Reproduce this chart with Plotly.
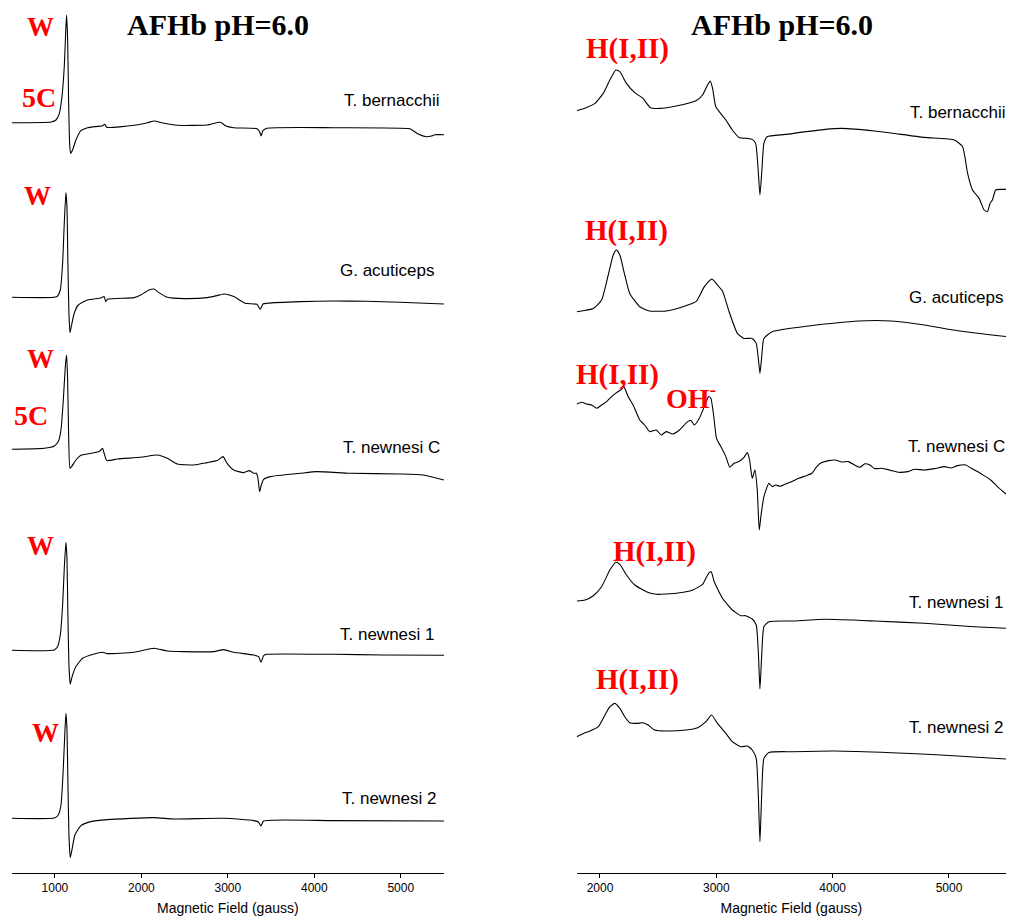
import plotly.graph_objects as go

# ---------------- data (field in gauss, intensity in arbitrary units) ----------------
species = ["T. bernacchii", "G. acuticeps", "T. newnesi C", "T. newnesi 1", "T. newnesi 2"]

# Left panel: wide-field spectra
B_L1 = [500, 955, 1012, 1051, 1081, 1108, 1127, 1135, 1147, 1158, 1170, 1181, 1204, 1243, 1300, 1377, 1550, 1577, 1600, 1915, 2069, 2146, 2261, 2415, 2760, 2914, 2972, 3068, 3337, 3368, 3383, 3406, 3452, 4221, 5105, 5143, 5201, 5297, 5355, 5393, 5500]
I_L1 = [0, 0.7, 2.7, 9.4, 26, 56, 96, 107.7, 82.7, 22.7, -20.6, -30.6, -27.3, -17.3, -8, -5, -3, -1.6, -4.6, -2.6, 0, 1.7, -0.6, -2.6, -2.3, 0.4, -3, -5, -6, -9, -13.3, -8, -5.6, -5, -6, -8, -11.3, -14, -13.3, -12, -12]

B_L2 = [500, 993, 1031, 1062, 1089, 1108, 1127, 1139, 1150, 1162, 1174, 1189, 1223, 1270, 1377, 1531, 1569, 1588, 1608, 1915, 1992, 2088, 2146, 2203, 2300, 2492, 2760, 2876, 2960, 3068, 3203, 3337, 3375, 3406, 3452, 3837, 4221, 4605, 4990, 5500]
I_L2 = [0, 0, 1.3, 7.3, 34, 74, 104.7, 90.7, 34, -16, -35.3, -29.3, -16, -7.7, -2.7, -0.7, 0.7, -4.3, -2, -0.3, 2.3, 7.3, 8.3, 4.7, 0, -1.3, -0.3, 1.7, 3.3, 0.7, -6, -7, -12, -6.7, -6, -4.3, -3.7, -4, -5, -6.7]

B_L3 = [500, 878, 993, 1039, 1070, 1097, 1120, 1135, 1147, 1158, 1174, 1193, 1243, 1300, 1415, 1512, 1550, 1569, 1600, 1723, 1992, 2184, 2300, 2415, 2607, 2760, 2876, 2945, 2991, 3068, 3183, 3252, 3298, 3329, 3345, 3368, 3387, 3414, 3491, 3837, 4029, 4413, 4990, 5258, 5500]
I_L3 = [0, 1, 3.3, 7.7, 19.3, 49.3, 82.7, 94.3, 69.3, 16, -19, -17.3, -10.7, -6, -4, -2.3, 1, -4, -11.3, -9.7, -8, -5.7, -9, -14.7, -15.7, -13.3, -11.3, -7.3, -14, -20.7, -23.3, -21.3, -24, -24, -27.3, -42.3, -35.7, -30, -27.3, -24, -22.3, -24, -24.7, -25.7, -30.7]

B_L4 = [500, 993, 1031, 1062, 1089, 1108, 1127, 1139, 1150, 1162, 1177, 1193, 1243, 1320, 1454, 1550, 1608, 1915, 2146, 2300, 2492, 2837, 2953, 3068, 3298, 3356, 3383, 3414, 3452, 4221, 4797, 5500]
I_L4 = [0, 0.3, 3.7, 15.3, 45.3, 82, 108, 92, 35.3, -14.7, -34, -28, -16.3, -8, -3.7, -2, -3.3, -2, 2, -0.7, -1.3, -1.3, 0.7, -2, -4.7, -6.3, -12, -5.3, -4, -4, -4.7, -5]

B_L5 = [500, 993, 1039, 1070, 1093, 1112, 1127, 1139, 1150, 1162, 1177, 1193, 1231, 1300, 1415, 1608, 2146, 2376, 2953, 3298, 3356, 3383, 3414, 4221, 5500]
I_L5 = [0, 0.3, 3.3, 13.3, 43.3, 80, 105, 90, 36.7, -16.7, -39.3, -33.3, -16.7, -7.3, -3.3, -1.3, 0.7, -0.7, 0, -2.3, -4, -7.7, -2.7, -2.3, -2.7]

# Right panel: low-spin region spectra
B_R1 = [1800, 1886, 1957, 2028, 2085, 2137, 2171, 2228, 2299, 2370, 2433, 2512, 2655, 2825, 2882, 2925, 2948, 2968, 2996, 3082, 3138, 3195, 3267, 3309, 3338, 3358, 3375, 3392, 3409, 3437, 3594, 3935, 4078, 4362, 4789, 5046, 5117, 5160, 5202, 5259, 5302, 5330, 5353, 5373, 5401, 5444, 5500]
I_R1 = [0, 3.3, 7.3, 17.3, 30.7, 40.7, 39, 27.3, 18, 12.3, 3, 2.3, 4.7, 10, 15.7, 25.7, 29.7, 22.3, 4, -9.3, -19.3, -26.7, -27.7, -28.7, -32.7, -56, -84.3, -59.3, -32.7, -26, -23.7, -18.7, -17.7, -20.3, -26.7, -29.3, -36, -62.7, -79.3, -87.7, -99.3, -101, -92.7, -89.3, -79.3, -78.7, -78.7]

B_R2 = [1800, 1943, 2014, 2071, 2114, 2142, 2171, 2213, 2256, 2342, 2427, 2569, 2712, 2825, 2897, 2962, 3010, 3053, 3110, 3181, 3238, 3309, 3343, 3361, 3375, 3389, 3409, 3480, 3793, 4220, 4505, 4789, 5074, 5500]
I_R2 = [0, 3.3, 11.7, 36.7, 56.7, 61.7, 56.7, 36.7, 18.3, 5, 0.7, 0.7, 5, 10, 25, 32.7, 26.7, 20.7, 0, -21.7, -26.7, -26.7, -31.7, -46.7, -61.7, -46.7, -26.7, -20, -14.3, -9.3, -9.3, -13.3, -19, -25]

B_R3 = [1800, 1843, 1886, 1929, 1971, 2014, 2057, 2100, 2142, 2185, 2205, 2242, 2285, 2342, 2384, 2427, 2484, 2527, 2569, 2626, 2683, 2754, 2783, 2811, 2854, 2897, 2934, 2953, 2973, 3002, 3039, 3082, 3116, 3153, 3195, 3238, 3267, 3286, 3309, 3332, 3352, 3369, 3383, 3409, 3452, 3480, 3508, 3550, 3594, 3650, 3708, 3765, 3822, 3865, 3907, 3965, 4021, 4078, 4135, 4192, 4234, 4277, 4320, 4362, 4419, 4476, 4505, 4562, 4647, 4704, 4789, 4875, 4960, 5017, 5074, 5145, 5188, 5245, 5302, 5359, 5416, 5500]
I_R3 = [-0.7, 1, -0.7, -1.7, -5, -1.7, 1.7, 6.7, 10.7, 14, 16.7, 6.7, -1.7, -16.7, -21.7, -28.3, -26.7, -31.7, -28.3, -30.7, -26.7, -18.3, -17.3, -21.7, -15, -3.3, 6.7, 5, -8.3, -35, -43.3, -53.3, -64, -60, -58.3, -54, -49.3, -56.7, -75, -66.7, -86.7, -126.7, -113.3, -93.3, -80, -83.3, -81.7, -83, -80.7, -78.3, -75, -72.7, -70, -63, -59.3, -57.3, -56.7, -58.7, -58.3, -62, -64, -60.5, -61.7, -65.3, -65, -66.3, -67.3, -69, -68.3, -66, -66.7, -65.3, -63.3, -64.7, -62.3, -61.7, -64.7, -68.3, -72.3, -76.7, -83.3, -91.7]

B_R4 = [1800, 1872, 1943, 2014, 2085, 2137, 2171, 2228, 2299, 2399, 2484, 2655, 2797, 2882, 2934, 2956, 2982, 3053, 3138, 3210, 3252, 3309, 3343, 3361, 3375, 3389, 3409, 3452, 3651, 3935, 4362, 4789, 5216, 5500]
I_R4 = [0, 1, 5.3, 14.3, 31, 38.7, 36.7, 26, 16, 9.3, 6.7, 7.7, 11, 16.7, 27.7, 29.3, 19.3, 2.7, -9, -14.7, -14.7, -18, -24, -50.7, -88, -57.3, -25.7, -20.7, -20, -18.3, -20, -22.3, -25.7, -27.3]

B_R5 = [1800, 1858, 1915, 1986, 2043, 2085, 2128, 2171, 2213, 2256, 2313, 2370, 2413, 2470, 2569, 2740, 2840, 2911, 2959, 3010, 3082, 3138, 3210, 3267, 3309, 3343, 3361, 3375, 3389, 3409, 3452, 3651, 4021, 4505, 4932, 5500]
I_R5 = [0, 3.3, 5.7, 10, 21.7, 30, 33.3, 28.3, 20, 14, 13.3, 14, 11.7, 6.7, 5.7, 6.7, 9, 15, 21.7, 13.3, 3.3, -5, -10, -9.3, -13.3, -21.7, -58.3, -105, -61.7, -21.7, -15.7, -15, -14.3, -16, -18.3, -22.3]

# vertical offsets (stacking) of each spectrum
offsets_left = [750.3, 575.7, 423.7, 222.7, 54.7]
offsets_right = [762.3, 561.3, 469.7, 272.0, 136.3]

left_B = [B_L1, B_L2, B_L3, B_L4, B_L5]
left_I = [I_L1, I_L2, I_L3, I_L4, I_L5]
right_B = [B_R1, B_R2, B_R3, B_R4, B_R5]
right_I = [I_R1, I_R2, I_R3, I_R4, I_R5]

left_ticks = [1000, 2000, 3000, 4000, 5000]
right_ticks = [2000, 3000, 4000, 5000]
title_text = "AFHb pH=6.0"
axis_title = "Magnetic Field (gauss)"

# ---------------- figure ----------------
PAGE_W, PAGE_H = 1015, 924
BODY = 8                      # default page margin around the plot
W, H = PAGE_W - 2 * BODY, PAGE_H - 2 * BODY
fig = go.Figure()

for Bs, Is, off in zip(left_B, left_I, offsets_left):
    fig.add_trace(go.Scatter(x=Bs, y=[v + off for v in Is], mode="lines",
                             line=dict(color="black", width=1.1, shape="spline", smoothing=0.5),
                             xaxis="x", yaxis="y", showlegend=False, hoverinfo="skip"))
for Bs, Is, off in zip(right_B, right_I, offsets_right):
    fig.add_trace(go.Scatter(x=Bs, y=[v + off for v in Is], mode="lines",
                             line=dict(color="black", width=1.1, shape="spline", smoothing=0.5),
                             xaxis="x2", yaxis="y2", showlegend=False, hoverinfo="skip"))

def px(x):
    return (x - BODY) / W

def py(y):
    return 1 - (y - BODY) / H

ann = []
serif = "Liberation Serif, Times New Roman, serif"
sans = "Liberation Sans, Arial, Helvetica, sans-serif"

# titles
for cx in (218, 782):
    ann.append(dict(x=px(cx), y=py(25), xref="paper", yref="paper", text="<b>%s</b>" % title_text,
                    showarrow=False, font=dict(family=serif, size=30, color="black"),
                    xanchor="center", yanchor="middle"))

# species labels
left_lab_pos = [(441, 101), (437, 270), (441.5, 447.5), (437, 634), (439, 798)]
right_lab_pos = [(1007, 112), (1006, 298), (1007, 446), (1006, 602.5), (1006, 727.5)]
for name, (x, y) in zip(species, left_lab_pos):
    ann.append(dict(x=px(x), y=py(y), xref="paper", yref="paper", text=name, showarrow=False,
                    font=dict(family=sans, size=17, color="black"), xanchor="right", yanchor="middle"))
for name, (x, y) in zip(species, right_lab_pos):
    ann.append(dict(x=px(x), y=py(y), xref="paper", yref="paper", text=name, showarrow=False,
                    font=dict(family=sans, size=17, color="black"), xanchor="right", yanchor="middle"))

# red feature labels
red_labels = [
    ("W", 40, 27, 27), ("5C", 39, 97, 28),
    ("W", 37.5, 196, 27),
    ("W", 40, 359, 27), ("5C", 31, 415, 28),
    ("W", 40, 546, 27),
    ("W", 45, 733, 27),
    ("H(I,II)", 627, 49, 29),
    ("H(I,II)", 626, 230, 29),
    ("H(I,II)", 617, 374, 29),
    ("OH<sup>-</sup>", 691, 396, 28),
    ("H(I,II)", 654, 551, 29),
    ("H(I,II)", 637, 679, 29),
]
for t, x, y, s in red_labels:
    ann.append(dict(x=px(x), y=py(y), xref="paper", yref="paper", text="<b>%s</b>" % t,
                    showarrow=False, font=dict(family=serif, size=s, color="red"),
                    xanchor="center", yanchor="middle"))

AXIS_Y = 873
y_dom = [1 - (AXIS_Y - BODY) / H, 1.0]
y_rng = [0, AXIS_Y - BODY]
common_x = dict(showgrid=False, zeroline=False, showline=True, linecolor="black", linewidth=1,
                ticks="outside", ticklen=4, tickcolor="black", tickwidth=1,
                tickfont=dict(family=sans, size=12, color="black"),
                title=dict(text=axis_title, font=dict(family=sans, size=14, color="black"), standoff=10),
                mirror=False)

fig.update_layout(
    width=W, height=H,
    margin=dict(l=0, r=0, t=0, b=0),
    paper_bgcolor="white", plot_bgcolor="white",
    xaxis=dict(domain=[px(11.7), px(444)], range=[500, 5500], tickvals=left_ticks, anchor="y", **common_x),
    xaxis2=dict(domain=[px(576.7), px(1006)], range=[1800, 5490], tickvals=right_ticks, anchor="y2", **common_x),
    yaxis=dict(domain=y_dom, range=y_rng, visible=False, fixedrange=True),
    yaxis2=dict(domain=y_dom, range=y_rng, visible=False, fixedrange=True),
    annotations=ann,
    showlegend=False,
)

fig.write_html("out.html")
